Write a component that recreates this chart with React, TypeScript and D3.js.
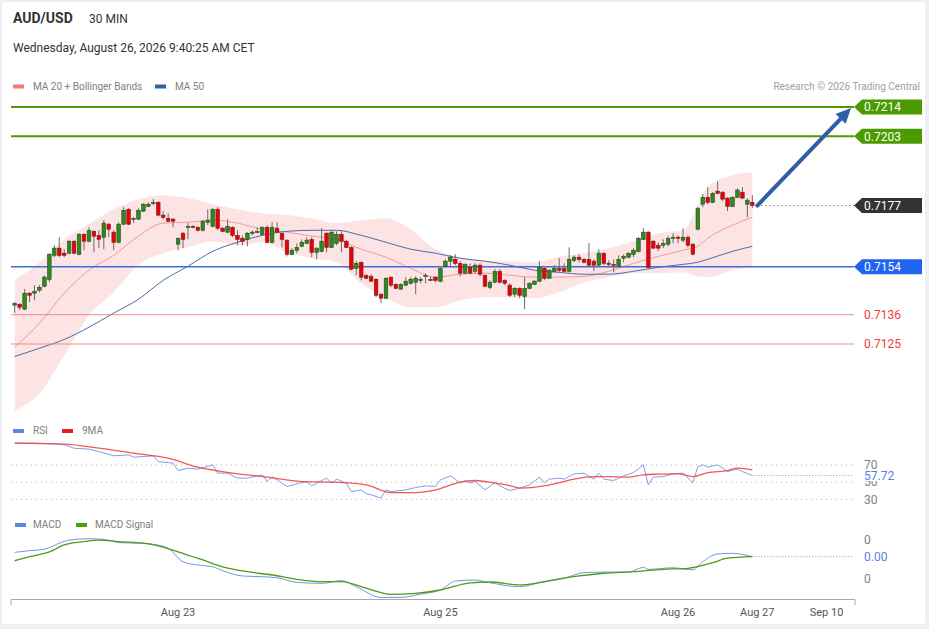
import * as d3 from 'd3';

// ---------------------------------------------------------------------------
// Data
// ---------------------------------------------------------------------------

// open, high, low, close — one 30 min bar each
const CANDLES: [number, number, number, number][] = [
  [0.71396, 0.71407, 0.71366, 0.71403], [0.71399, 0.71403, 0.71377, 0.71388],
  [0.71381, 0.71456, 0.71377, 0.71441], [0.71441, 0.71444, 0.71407, 0.71433],
  [0.71441, 0.71471, 0.71414, 0.71448], [0.71452, 0.71471, 0.71444, 0.71463],
  [0.71467, 0.71508, 0.71463, 0.71501], [0.71493, 0.71591, 0.71482, 0.71587],
  [0.71583, 0.71621, 0.71576, 0.71610], [0.71610, 0.71651, 0.71576, 0.71583],
  [0.71591, 0.71606, 0.71576, 0.71583], [0.71591, 0.71640, 0.71587, 0.71636],
  [0.71636, 0.71640, 0.71587, 0.71591], [0.71587, 0.71666, 0.71583, 0.71662],
  [0.71662, 0.71666, 0.71602, 0.71636], [0.71636, 0.71688, 0.71632, 0.71677],
  [0.71673, 0.71677, 0.71594, 0.71655], [0.71658, 0.71677, 0.71610, 0.71643],
  [0.71651, 0.71715, 0.71606, 0.71704], [0.71700, 0.71704, 0.71651, 0.71681],
  [0.71670, 0.71677, 0.71602, 0.71632], [0.71632, 0.71707, 0.71628, 0.71700],
  [0.71700, 0.71764, 0.71696, 0.71752], [0.71756, 0.71760, 0.71696, 0.71700],
  [0.71719, 0.71726, 0.71704, 0.71722], [0.71719, 0.71760, 0.71715, 0.71752],
  [0.71749, 0.71779, 0.71745, 0.71775], [0.71767, 0.71782, 0.71764, 0.71775],
  [0.71779, 0.71794, 0.71771, 0.71782], [0.71782, 0.71786, 0.71730, 0.71734],
  [0.71734, 0.71749, 0.71719, 0.71726], [0.71722, 0.71741, 0.71707, 0.71711],
  [0.71719, 0.71722, 0.71688, 0.71711], [0.71625, 0.71651, 0.71602, 0.71647],
  [0.71666, 0.71670, 0.71610, 0.71643], [0.71688, 0.71704, 0.71643, 0.71692],
  [0.71692, 0.71696, 0.71685, 0.71688], [0.71688, 0.71692, 0.71673, 0.71677],
  [0.71677, 0.71715, 0.71673, 0.71711], [0.71707, 0.71756, 0.71696, 0.71715],
  [0.71692, 0.71760, 0.71688, 0.71756], [0.71756, 0.71764, 0.71677, 0.71685],
  [0.71685, 0.71688, 0.71670, 0.71673], [0.71670, 0.71719, 0.71666, 0.71692],
  [0.71688, 0.71692, 0.71651, 0.71658], [0.71658, 0.71677, 0.71621, 0.71643],
  [0.71647, 0.71658, 0.71621, 0.71636], [0.71643, 0.71670, 0.71617, 0.71666],
  [0.71666, 0.71677, 0.71658, 0.71670], [0.71668, 0.71688, 0.71666, 0.71672],
  [0.71662, 0.71692, 0.71658, 0.71688], [0.71688, 0.71696, 0.71628, 0.71632],
  [0.71632, 0.71707, 0.71628, 0.71688], [0.71685, 0.71707, 0.71666, 0.71670],
  [0.71666, 0.71668, 0.71613, 0.71643], [0.71640, 0.71643, 0.71579, 0.71587],
  [0.71587, 0.71610, 0.71583, 0.71602], [0.71602, 0.71628, 0.71591, 0.71613],
  [0.71617, 0.71643, 0.71613, 0.71632], [0.71628, 0.71651, 0.71625, 0.71640],
  [0.71643, 0.71651, 0.71576, 0.71594], [0.71594, 0.71613, 0.71568, 0.71610],
  [0.71598, 0.71685, 0.71594, 0.71636], [0.71666, 0.71670, 0.71594, 0.71613],
  [0.71613, 0.71673, 0.71610, 0.71670], [0.71628, 0.71673, 0.71621, 0.71662],
  [0.71662, 0.71673, 0.71594, 0.71636], [0.71636, 0.71640, 0.71610, 0.71613],
  [0.71613, 0.71617, 0.71527, 0.71531], [0.71534, 0.71561, 0.71508, 0.71553],
  [0.71557, 0.71559, 0.71489, 0.71501], [0.71508, 0.71512, 0.71493, 0.71497],
  [0.71504, 0.71512, 0.71482, 0.71486], [0.71493, 0.71497, 0.71426, 0.71433],
  [0.71437, 0.71441, 0.71403, 0.71422], [0.71422, 0.71501, 0.71418, 0.71497],
  [0.71501, 0.71503, 0.71463, 0.71471], [0.71474, 0.71478, 0.71456, 0.71459],
  [0.71456, 0.71478, 0.71454, 0.71474], [0.71471, 0.71501, 0.71467, 0.71486],
  [0.71478, 0.71501, 0.71474, 0.71493], [0.71482, 0.71504, 0.71437, 0.71497],
  [0.71489, 0.71501, 0.71478, 0.71493], [0.71504, 0.71516, 0.71478, 0.71508],
  [0.71493, 0.71504, 0.71486, 0.71489], [0.71501, 0.71504, 0.71482, 0.71489],
  [0.71486, 0.71538, 0.71482, 0.71534], [0.71542, 0.71568, 0.71538, 0.71561],
  [0.71561, 0.71583, 0.71538, 0.71576], [0.71568, 0.71587, 0.71546, 0.71553],
  [0.71553, 0.71561, 0.71504, 0.71516], [0.71516, 0.71553, 0.71512, 0.71549],
  [0.71538, 0.71553, 0.71512, 0.71516], [0.71523, 0.71553, 0.71516, 0.71546],
  [0.71546, 0.71553, 0.71504, 0.71512], [0.71508, 0.71512, 0.71463, 0.71467],
  [0.71463, 0.71489, 0.71456, 0.71482], [0.71482, 0.71531, 0.71478, 0.71523],
  [0.71523, 0.71531, 0.71478, 0.71482], [0.71489, 0.71493, 0.71471, 0.71478],
  [0.71471, 0.71478, 0.71426, 0.71433], [0.71437, 0.71463, 0.71426, 0.71459],
  [0.71459, 0.71463, 0.71422, 0.71433], [0.71429, 0.71501, 0.71381, 0.71459],
  [0.71459, 0.71482, 0.71456, 0.71478], [0.71474, 0.71489, 0.71472, 0.71486],
  [0.71486, 0.71561, 0.71482, 0.71538], [0.71534, 0.71538, 0.71489, 0.71497],
  [0.71497, 0.71531, 0.71495, 0.71527], [0.71523, 0.71546, 0.71519, 0.71534],
  [0.71534, 0.71572, 0.71519, 0.71527], [0.71534, 0.71553, 0.71519, 0.71523],
  [0.71523, 0.71613, 0.71519, 0.71568], [0.71564, 0.71583, 0.71557, 0.71576],
  [0.71576, 0.71587, 0.71557, 0.71568], [0.71568, 0.71572, 0.71553, 0.71557],
  [0.71568, 0.71628, 0.71538, 0.71546], [0.71561, 0.71568, 0.71523, 0.71546],
  [0.71546, 0.71606, 0.71542, 0.71591], [0.71591, 0.71594, 0.71546, 0.71553],
  [0.71553, 0.71564, 0.71538, 0.71549], [0.71549, 0.71568, 0.71519, 0.71546],
  [0.71542, 0.71583, 0.71538, 0.71568], [0.71572, 0.71587, 0.71557, 0.71579],
  [0.71576, 0.71594, 0.71572, 0.71591], [0.71587, 0.71610, 0.71576, 0.71602],
  [0.71598, 0.71651, 0.71594, 0.71647], [0.71643, 0.71685, 0.71640, 0.71670],
  [0.71670, 0.71673, 0.71534, 0.71538], [0.71636, 0.71640, 0.71606, 0.71610],
  [0.71621, 0.71632, 0.71598, 0.71610], [0.71621, 0.71643, 0.71610, 0.71628],
  [0.71625, 0.71655, 0.71617, 0.71647], [0.71647, 0.71666, 0.71628, 0.71651],
  [0.71651, 0.71658, 0.71628, 0.71647], [0.71640, 0.71685, 0.71632, 0.71651],
  [0.71651, 0.71658, 0.71613, 0.71621], [0.71625, 0.71628, 0.71583, 0.71587],
  [0.71681, 0.71764, 0.71677, 0.71760], [0.71775, 0.71813, 0.71764, 0.71801],
  [0.71801, 0.71839, 0.71775, 0.71782], [0.71782, 0.71820, 0.71779, 0.71816],
  [0.71824, 0.71861, 0.71813, 0.71816], [0.71820, 0.71824, 0.71786, 0.71794],
  [0.71798, 0.71801, 0.71749, 0.71767], [0.71767, 0.71805, 0.71764, 0.71801],
  [0.71801, 0.71835, 0.71798, 0.71828], [0.71820, 0.71839, 0.71794, 0.71798],
  [0.71775, 0.71798, 0.71726, 0.71790], [0.71782, 0.71809, 0.71760, 0.71770],
];

// bar indices where the overlay lines were read
const BAND_IDX = [0, 5, 10, 15, 20, 25, 30, 35, 40, 45, 50, 55, 60, 65, 70, 75, 80, 85, 90, 95, 100, 105, 110, 115, 120, 125, 130, 135, 138, 140, 145, 149];
const BB_UPPER = [0.71489, 0.71557, 0.71643, 0.71700, 0.71756, 0.71794, 0.71809, 0.71798, 0.71775, 0.71756, 0.71741, 0.71734, 0.71722, 0.71704, 0.71715, 0.71722, 0.71681, 0.71606, 0.71576, 0.71564, 0.71561, 0.71557, 0.71579, 0.71591, 0.71610, 0.71636, 0.71666, 0.71677, 0.71771, 0.71839, 0.71884, 0.71895];
const BB_LOWER = [0.71000, 0.71064, 0.71207, 0.71358, 0.71444, 0.71546, 0.71591, 0.71613, 0.71636, 0.71621, 0.71632, 0.71594, 0.71572, 0.71557, 0.71478, 0.71422, 0.71388, 0.71388, 0.71414, 0.71426, 0.71426, 0.71422, 0.71444, 0.71482, 0.71501, 0.71516, 0.71516, 0.71519, 0.71504, 0.71501, 0.71527, 0.71538];
const MA20 = [0.71237, 0.71328, 0.71441, 0.71527, 0.71583, 0.71655, 0.71704, 0.71707, 0.71715, 0.71704, 0.71681, 0.71670, 0.71655, 0.71643, 0.71606, 0.71576, 0.71534, 0.71501, 0.71512, 0.71516, 0.71508, 0.71501, 0.71501, 0.71504, 0.71523, 0.71553, 0.71579, 0.71602, 0.71617, 0.71647, 0.71696, 0.71726];
const MA50 = [0.71203, 0.71234, 0.71267, 0.71313, 0.71366, 0.71418, 0.71489, 0.71542, 0.71598, 0.71632, 0.71658, 0.71673, 0.71677, 0.71677, 0.71658, 0.71632, 0.71606, 0.71591, 0.71572, 0.71561, 0.71546, 0.71527, 0.71519, 0.71512, 0.71512, 0.71523, 0.71538, 0.71549, 0.71557, 0.71568, 0.71598, 0.71617];

const RSI_IDX = [0, 4, 8, 10, 12, 15, 17, 20, 23, 24, 28, 29, 32, 33, 35, 37, 40, 41, 43, 45, 47, 50, 51, 52, 55, 58, 59, 60, 63, 64, 65, 67, 68, 70, 71, 72, 74, 75, 76, 79, 81, 83, 85, 86, 88, 89, 90, 91, 92, 93, 95, 97, 98, 100, 102, 104, 106, 107, 108, 110, 111, 113, 115, 117, 118, 119, 121, 123, 125, 127, 128, 129, 131, 133, 135, 137, 138, 139, 140, 142, 144, 146, 147, 149];
const RSI_VAL = [95.5, 95.5, 94.6, 93.5, 89.6, 88.5, 85.7, 80.7, 81.8, 79.1, 80.7, 74.0, 72.1, 63.5, 66.3, 65.2, 70.2, 60.5, 60.5, 54.7, 54.7, 58.5, 50.7, 56.5, 44.9, 49.5, 50.7, 45.7, 54.7, 48.8, 53.5, 48.8, 39.0, 41.0, 36.4, 35.2, 31.4, 41.0, 39.0, 41.0, 43.7, 45.7, 44.9, 52.7, 57.3, 53.5, 49.0, 51.9, 48.8, 50.7, 41.0, 49.5, 45.7, 40.2, 43.0, 46.9, 55.8, 49.5, 53.5, 54.7, 53.5, 59.7, 60.5, 53.5, 60.5, 53.5, 51.9, 57.3, 61.2, 70.2, 46.9, 55.8, 56.5, 59.7, 60.5, 49.5, 68.2, 70.2, 67.5, 70.2, 62.4, 65.2, 62.4, 57.72];
const RSI_MA_IDX = [0, 10, 17, 24, 31, 37, 44, 51, 58, 64, 71, 76, 81, 85, 90, 93, 97, 100, 102, 107, 110, 113, 117, 120, 124, 127, 130, 134, 137, 140, 144, 146, 149];
const RSI_MA_VAL = [95.5, 94.3, 89.6, 83.8, 78.0, 67.5, 60.5, 55.8, 50.7, 50.0, 46.9, 37.9, 37.9, 41.0, 50.0, 51.9, 48.8, 46.0, 43.0, 45.7, 49.5, 53.5, 56.5, 56.5, 55.8, 58.5, 59.3, 59.7, 56.5, 61.2, 63.5, 66.3, 64.3];
const RSI_TICKS = [70, 50, 30];

const MACD_IDX = [0, 3, 6, 9, 11, 15, 19, 21, 25, 28, 31, 34, 37, 40, 42, 46, 50, 53, 57, 62, 66, 69, 74, 78, 82, 86, 89, 93, 96, 102, 106, 111, 115, 120, 124, 127, 128, 133, 137, 139, 142, 145, 149];
const MACD_VAL = [0.00033, 0.00042, 0.00049, 0.00080, 0.00096, 0.00103, 0.00096, 0.00083, 0.00080, 0.00074, 0.00054, -0.00015, -0.00032, -0.00041, -0.00061, -0.00088, -0.00092, -0.00097, -0.00121, -0.00126, -0.00112, -0.00143, -0.00198, -0.00198, -0.00181, -0.00160, -0.00114, -0.00109, -0.00123, -0.00143, -0.00123, -0.00100, -0.00071, -0.00068, -0.00068, -0.00044, -0.00054, -0.00046, -0.00057, -0.00015, 0.00025, 0.00028, 0.00011];
const SIGNAL_IDX = [0, 3, 7, 10, 14, 17, 21, 26, 29, 33, 38, 42, 47, 52, 57, 62, 66, 71, 76, 81, 86, 92, 96, 102, 108, 114, 119, 125, 131, 136, 141, 144, 149];
const SIGNAL_VAL = [-0.00010, 0.00011, 0.00035, 0.00071, 0.00088, 0.00096, 0.00088, 0.00080, 0.00066, 0.00036, -0.00006, -0.00041, -0.00066, -0.00083, -0.00105, -0.00117, -0.00117, -0.00151, -0.00182, -0.00177, -0.00160, -0.00123, -0.00119, -0.00134, -0.00112, -0.00088, -0.00074, -0.00066, -0.00054, -0.00049, -0.00020, 0.00003, 0.00011];
const MACD_TICKS = [0.001, -0.001];

const RESISTANCES = [0.7214, 0.7203];
const PIVOT = 0.7154;
const SUPPORTS = [0.7136, 0.7125];
const LAST_PRICE = 0.7177;
const TARGET = 0.7214;

const X_TICKS = [
  { i: 33, label: 'Aug 23' },
  { i: 86, label: 'Aug 25' },
  { i: 134, label: 'Aug 26' },
  { i: 150, label: 'Aug 27' },
  { i: 164, label: 'Sep 10' },
];

// ---------------------------------------------------------------------------
// Styling
// ---------------------------------------------------------------------------

const W = 929;
const H = 629;
const FONT = "Roboto, 'Liberation Sans', Arial, sans-serif";
const LEFT = 11;
const RIGHT = 854;
const LABEL_X = 864;

const GREEN_LVL = '#4f9a06';
const BLUE_LVL = '#3f6fd6';
const RED_LVL = '#f28a8a';
const BAND_FILL = '#fde4e4';
const MA20_COLOR = '#f39a9a';
const MA50_COLOR = '#4a6cae';
const RSI_COLOR = '#7d9fe9';
const RSI_MA_COLOR = '#f23a3a';
const MACD_COLOR = '#6f94e8';
const SIGNAL_COLOR = '#4c9d14';
const TEXT_DARK = '#333';
const TEXT_GREY = '#808080';

// ---------------------------------------------------------------------------
// Scales
// ---------------------------------------------------------------------------

const x = d3.scaleLinear().domain([0, CANDLES.length - 1]).range([14.7, 752.3]);
const y = d3.scaleLinear().domain([0.7125, 0.7214]).range([344, 107]);
const yRsi = d3.scaleLinear().domain([30, 70]).range([499.3, 465]);
const yMacd = d3.scaleLinear().domain([-0.001, 0.001]).range([578.3, 539.3]);

type Pt = [number, number];
const zip = (idx: number[], vals: number[]): Pt[] => idx.map((i, k) => [i, vals[k]]);

function LevelTag({ yc, fill, text }: { yc: number; fill: string; text: string }) {
  const x0 = RIGHT;
  const x1 = 922;
  const h = 7.5;
  return (
    <g>
      <path
        d={`M${x0},${yc} L${x0 + 8},${yc - h} L${x1},${yc - h} L${x1},${yc + h} L${x0 + 8},${yc + h} Z`}
        fill={fill}
      />
      <text x={LABEL_X} y={yc} dy="0.36em" fill="#fff" fontSize={12}>{text}</text>
    </g>
  );
}

export default function App() {
  const bandPts = BAND_IDX.map((i, k) => ({ i, hi: BB_UPPER[k], lo: BB_LOWER[k] }));
  const band = d3.area<{ i: number; hi: number; lo: number }>()
    .x((d) => x(d.i))
    .y0((d) => y(d.lo))
    .y1((d) => y(d.hi))
    .curve(d3.curveMonotoneX);

  const priceLine = d3.line<Pt>().x((d) => x(d[0])).y((d) => y(d[1])).curve(d3.curveMonotoneX);
  const rsiLine = d3.line<Pt>().x((d) => x(d[0])).y((d) => yRsi(d[1]));
  const rsiMaLine = d3.line<Pt>().x((d) => x(d[0])).y((d) => yRsi(d[1])).curve(d3.curveMonotoneX);
  const macdLine = d3.line<Pt>().x((d) => x(d[0])).y((d) => yMacd(d[1])).curve(d3.curveMonotoneX);

  const lastIdx = CANDLES.length - 1;
  const lastX = x(lastIdx);
  const lastRsi = RSI_VAL[RSI_VAL.length - 1];
  const lastMacd = MACD_VAL[MACD_VAL.length - 1];

  // arrow towards the target
  const ax0 = lastX + 5;
  const ay0 = y(LAST_PRICE);
  const ax1 = 851;
  const ay1 = y(TARGET) + 1;
  const ang = Math.atan2(ay1 - ay0, ax1 - ax0);
  const headLen = 15;
  const headW = 7;
  const bx = ax1 - headLen * Math.cos(ang);
  const by = ay1 - headLen * Math.sin(ang);
  const px = -Math.sin(ang) * headW;
  const py = Math.cos(ang) * headW;

  return (
    <div style={{ position: 'absolute', left: 0, top: 0 }}>
      <svg width={W} height={H} fontFamily={FONT} style={{ display: 'block' }}>
        <rect width={W} height={H} fill="#edf1f4" />
        <rect x={2} y={2} width={923} height={622} fill="#fff" rx={2} />

        {/* header */}
        <text x={13} y={23} fontSize={14} fontWeight="bold" fill={TEXT_DARK}>AUD/USD</text>
        <text x={89} y={23} fontSize={12} fill={TEXT_DARK}>30 MIN</text>
        <text x={13} y={52} fontSize={12} fill={TEXT_DARK}>Wednesday, August 26, 2026 9:40:25 AM CET</text>

        {/* legend */}
        <rect x={13} y={84.5} width={11} height={4} fill="#f47a7a" />
        <text x={33} y={90} fontSize={10} fill={TEXT_GREY}>MA 20 + Bollinger Bands</text>
        <rect x={155} y={84.5} width={11} height={4} fill="#3a5f9e" />
        <text x={175} y={90} fontSize={10} fill={TEXT_GREY}>MA 50</text>
        <text x={920} y={90} fontSize={10} fill="#a0a0a0" textAnchor="end">Research © 2026 Trading Central</text>

        {/* bollinger band + moving averages */}
        <path d={band(bandPts) ?? ''} fill={BAND_FILL} />
        <path d={priceLine(zip(BAND_IDX, MA20)) ?? ''} fill="none" stroke={MA20_COLOR} strokeWidth={1} />
        <path d={priceLine(zip(BAND_IDX, MA50)) ?? ''} fill="none" stroke={MA50_COLOR} strokeWidth={1} />

        {/* levels */}
        {RESISTANCES.map((v) => (
          <line key={v} x1={LEFT} x2={RIGHT} y1={y(v)} y2={y(v)} stroke={GREEN_LVL} strokeWidth={2} />
        ))}
        <line x1={LEFT} x2={RIGHT} y1={y(PIVOT)} y2={y(PIVOT)} stroke={BLUE_LVL} strokeWidth={1.5} />
        {SUPPORTS.map((v) => (
          <line key={v} x1={LEFT} x2={RIGHT} y1={y(v)} y2={y(v)} stroke={RED_LVL} strokeWidth={1} />
        ))}

        {/* candles */}
        {CANDLES.map(([o, h, l, c], i) => {
          const up = c >= o;
          const cx = x(i);
          const top = y(Math.max(o, c));
          const bot = y(Math.min(o, c));
          return (
            <g key={i}>
              <line x1={cx} x2={cx} y1={y(h)} y2={y(l)} stroke="#6a6a6a" strokeWidth={1} />
              <rect
                x={cx - 1.8}
                y={top}
                width={3.6}
                height={Math.max(1, bot - top)}
                fill={up ? '#2e8a1e' : '#e8000b'}
                stroke={up ? '#234d1a' : '#7c1a1a'}
                strokeWidth={0.6}
              />
            </g>
          );
        })}

        {/* last price dotted line */}
        <line x1={lastX + 5} x2={RIGHT} y1={y(LAST_PRICE)} y2={y(LAST_PRICE)} stroke="#555" strokeWidth={1} strokeDasharray="1,3" />

        {/* arrow */}
        <line x1={ax0} y1={ay0} x2={bx} y2={by} stroke="#2f5ea6" strokeWidth={4} strokeLinecap="round" />
        <path d={`M${ax1},${ay1} L${bx + px},${by + py} L${bx - px},${by - py} Z`} fill="#2f5ea6" />

        {/* level tags */}
        {RESISTANCES.map((v) => (
          <LevelTag key={v} yc={y(v)} fill="#4a9a00" text={d3.format('.4f')(v)} />
        ))}
        <LevelTag yc={y(LAST_PRICE)} fill="#333333" text={d3.format('.4f')(LAST_PRICE)} />
        <LevelTag yc={y(PIVOT)} fill="#1f63f0" text={d3.format('.4f')(PIVOT)} />
        {SUPPORTS.map((v) => (
          <text key={v} x={LABEL_X} y={y(v)} dy="0.36em" fontSize={12} fill="#f43a3a">{d3.format('.4f')(v)}</text>
        ))}

        {/* RSI panel */}
        <rect x={13} y={429} width={11} height={4} fill="#5b86e6" />
        <text x={33} y={434} fontSize={10} fill={TEXT_GREY}>RSI</text>
        <rect x={62} y={429} width={11} height={4} fill="#ee1c1c" />
        <text x={82} y={434} fontSize={10} fill={TEXT_GREY}>9MA</text>
        {RSI_TICKS.map((t) => (
          <g key={t}>
            <line x1={LEFT} x2={RIGHT} y1={yRsi(t)} y2={yRsi(t)} stroke="#b0b0b0" strokeWidth={1} strokeDasharray="1,4" />
            <text x={LABEL_X} y={yRsi(t)} dy="0.36em" fontSize={12} fill={TEXT_GREY}>{t}</text>
          </g>
        ))}
        <path d={rsiLine(zip(RSI_IDX, RSI_VAL)) ?? ''} fill="none" stroke={RSI_COLOR} strokeWidth={1} />
        <path d={rsiMaLine(zip(RSI_MA_IDX, RSI_MA_VAL)) ?? ''} fill="none" stroke={RSI_MA_COLOR} strokeWidth={1.3} strokeOpacity={0.85} />
        <line x1={lastX} x2={RIGHT} y1={yRsi(lastRsi)} y2={yRsi(lastRsi)} stroke={RSI_COLOR} strokeWidth={1} strokeDasharray="1,2" />
        <rect x={LABEL_X - 1} y={yRsi(lastRsi) - 6.5} width={34} height={12} fill="#fff" />
        <text x={LABEL_X} y={yRsi(lastRsi)} dy="0.36em" fontSize={12} fill="#5a80e4">{d3.format('.2f')(lastRsi)}</text>

        {/* MACD panel */}
        <rect x={15} y={523} width={11} height={4} fill="#5b86e6" />
        <text x={33} y={528} fontSize={10} fill={TEXT_GREY}>MACD</text>
        <rect x={76} y={523} width={11} height={4} fill="#45a010" />
        <text x={95} y={528} fontSize={10} fill={TEXT_GREY}>MACD Signal</text>
        {MACD_TICKS.map((t) => (
          <text key={t} x={LABEL_X} y={yMacd(t)} dy="0.36em" fontSize={12} fill={TEXT_GREY}>
            {String(Math.round(t))}
          </text>
        ))}
        <path d={macdLine(zip(MACD_IDX, MACD_VAL)) ?? ''} fill="none" stroke={MACD_COLOR} strokeWidth={1} />
        <path d={macdLine(zip(SIGNAL_IDX, SIGNAL_VAL)) ?? ''} fill="none" stroke={SIGNAL_COLOR} strokeWidth={1.3} />
        <line x1={lastX} x2={RIGHT} y1={yMacd(lastMacd)} y2={yMacd(lastMacd)} stroke={MACD_COLOR} strokeWidth={1} strokeDasharray="1,2" />
        <text x={LABEL_X} y={yMacd(lastMacd)} dy="0.36em" fontSize={12} fill="#5a80e4">{d3.format('.2f')(lastMacd)}</text>

        {/* x axis */}
        <line x1={LEFT} x2={RIGHT + 1} y1={599.5} y2={599.5} stroke="#a8a8a8" strokeWidth={1} />
        <line x1={LEFT} x2={LEFT} y1={599.5} y2={605} stroke="#a8a8a8" strokeWidth={1} />
        <line x1={RIGHT + 1} x2={RIGHT + 1} y1={599.5} y2={605} stroke="#a8a8a8" strokeWidth={1} />
        {X_TICKS.map((t) => (
          <text key={t.label} x={x(t.i)} y={616} fontSize={11} fill="#555" textAnchor="middle">{t.label}</text>
        ))}
      </svg>
    </div>
  );
}
